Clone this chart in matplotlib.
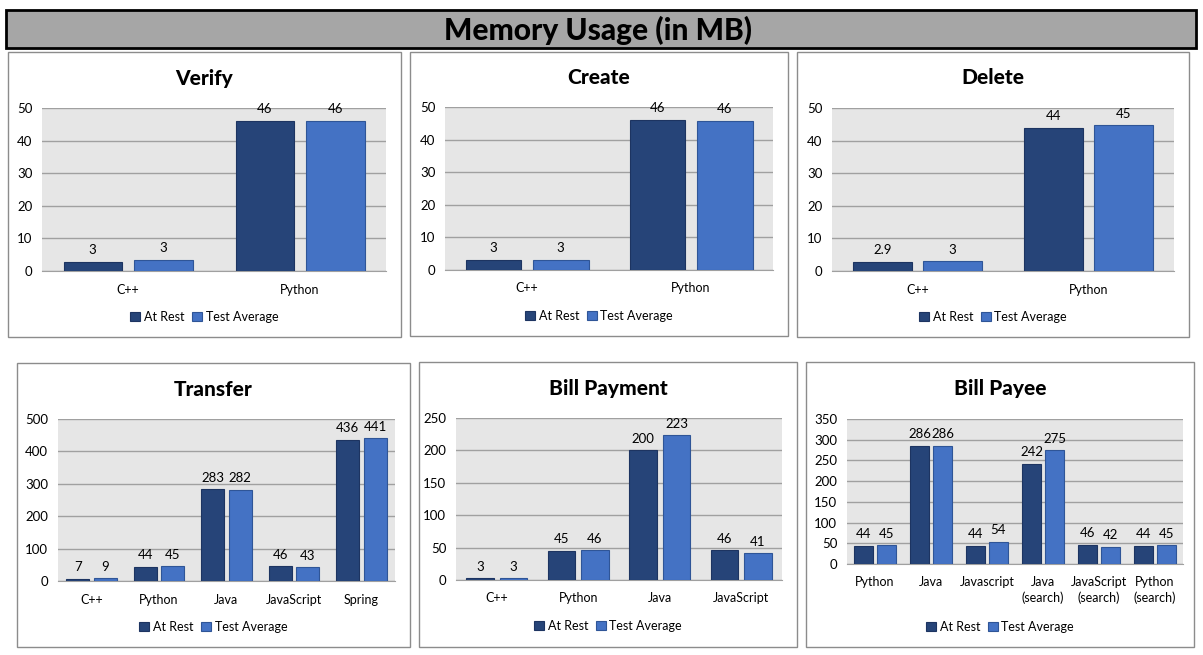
import matplotlib.pyplot as plt
from matplotlib.patches import Rectangle

plt.rcParams['font.family'] = ['Lato', 'DejaVu Sans']

W, H = 1203, 655

series = ["At Rest", "Test Average"]

verify_cats = ["C++", "Python"]
verify_rest = [2.9, 46]
verify_test = [3.4, 46]
verify_rest_lbl = ["3", "46"]
verify_test_lbl = ["3", "46"]

create_cats = ["C++", "Python"]
create_rest = [3.1, 46]
create_test = [3.1, 45.8]
create_rest_lbl = ["3", "46"]
create_test_lbl = ["3", "46"]

delete_cats = ["C++", "Python"]
delete_rest = [2.9, 44]
delete_test = [3.0, 44.7]
delete_rest_lbl = ["2.9", "44"]
delete_test_lbl = ["3", "45"]

transfer_cats = ["C++", "Python", "Java", "JavaScript", "Spring"]
transfer_rest = [7, 44, 283, 46, 436]
transfer_test = [9, 45, 282, 43, 441]

billpay_cats = ["C++", "Python", "Java", "JavaScript"]
billpay_rest = [3, 45, 200, 46]
billpay_test = [3, 46, 223, 41]

payee_cats = ["Python", "Java", "Javascript", "Java\n(search)", "JavaScript\n(search)", "Python\n(search)"]
payee_rest = [44, 286, 44, 242, 46, 44]
payee_test = [45, 286, 54, 275, 42, 45]

DARK = "#264478"
LIGHT = "#4472c4"


def fx(x):
    return x / W


def fy(y):
    return 1 - y / H


fig = plt.figure(figsize=(W / 100, H / 100), dpi=100)

# title bar
fig.patches.append(Rectangle((fx(6), fy(48)), fx(1196 - 6), (48 - 10) / H,
                             transform=fig.transFigure, facecolor="#a6a6a6",
                             edgecolor="black", linewidth=2, zorder=-5))
fig.text(fx(598), fy(30), "Memory Usage (in MB)", ha="center", va="center",
         fontsize=21.5, fontweight="black")


def panel(box, plot, title, cats, rest, test, rest_lbl, test_lbl, ymax, ystep,
          title_y, legend_y):
    bx0, by0, bx1, by1 = box
    fig.patches.append(Rectangle((fx(bx0), fy(by1)), (bx1 - bx0) / W, (by1 - by0) / H,
                                 transform=fig.transFigure, facecolor="white",
                                 edgecolor="#8c8c8c", linewidth=1, zorder=-5))
    px0, py0, px1, py1 = plot
    ax = fig.add_axes([fx(px0), fy(py1), (px1 - px0) / W, (py1 - py0) / H])
    ax.set_facecolor("#e6e6e6")
    xs = list(range(len(cats)))
    w = 0.34
    off = 0.205
    b1 = ax.bar([x - off for x in xs], rest, w, color=DARK, edgecolor="#1d3461",
                linewidth=0.8, label=series[0], zorder=3)
    b2 = ax.bar([x + off for x in xs], test, w, color=LIGHT, edgecolor="#2f5597",
                linewidth=0.8, label=series[1], zorder=3)
    if rest_lbl is None:
        rest_lbl = [f"{v:g}" for v in rest]
    if test_lbl is None:
        test_lbl = [f"{v:g}" for v in test]
    ax.bar_label(b1, rest_lbl, padding=4, fontsize=9.5)
    ax.bar_label(b2, test_lbl, padding=4, fontsize=9.5)
    ax.set_xlim(-0.5, len(cats) - 0.5)
    ax.set_ylim(0, ymax)
    ax.set_yticks(range(0, ymax + 1, ystep))
    ax.set_xticks(xs)
    ax.set_xticklabels(cats, fontsize=9)
    ax.yaxis.grid(True, color="#a0a0a0", linewidth=1, zorder=0)
    ax.set_axisbelow(True)
    for s in ["top", "left", "right"]:
        ax.spines[s].set_visible(False)
    ax.spines["bottom"].set_color("#a0a0a0")
    ax.tick_params(axis="both", length=0)
    ax.tick_params(axis="y", labelsize=9.5, pad=7)
    ax.tick_params(axis="x", labelsize=9, pad=9)
    for t in ax.get_xticklabels():
        t.set_linespacing(1.3)
    fig.text(fx((bx0 + bx1) / 2), fy(title_y), title, ha="center", va="center",
             fontsize=15, fontweight="black")
    ax.legend(loc="center", bbox_to_anchor=(fx((bx0 + bx1) / 2), fy(legend_y)),
              bbox_transform=fig.transFigure, ncol=2, frameon=False, fontsize=9,
              handlelength=0.8, handleheight=0.8, columnspacing=0.6,
              handletextpad=0.3)
    return ax


panel((8, 52, 401, 337), (42, 108, 386, 271), "Verify", verify_cats,
      verify_rest, verify_test, verify_rest_lbl, verify_test_lbl, 50, 10, 78, 317)
panel((410, 52, 788, 336), (445, 107, 773, 270), "Create", create_cats,
      create_rest, create_test, create_rest_lbl, create_test_lbl, 50, 10, 77, 316)
panel((797, 52, 1189, 337), (832, 108, 1174, 271), "Delete", delete_cats,
      delete_rest, delete_test, delete_rest_lbl, delete_test_lbl, 50, 10, 78, 317)
panel((17, 363, 410, 647), (58, 419, 395, 581), "Transfer", transfer_cats,
      transfer_rest, transfer_test, None, None, 500, 100, 389, 627)
panel((419, 362, 797, 647), (456, 418, 782, 580), "Bill Payment", billpay_cats,
      billpay_rest, billpay_test, None, None, 250, 50, 388, 626)
panel((806, 362, 1194, 647), (847, 419, 1183, 564), "Bill Payee", payee_cats,
      payee_rest, payee_test, None, None, 350, 50, 389, 627)

fig.savefig("out.png", dpi=100)
